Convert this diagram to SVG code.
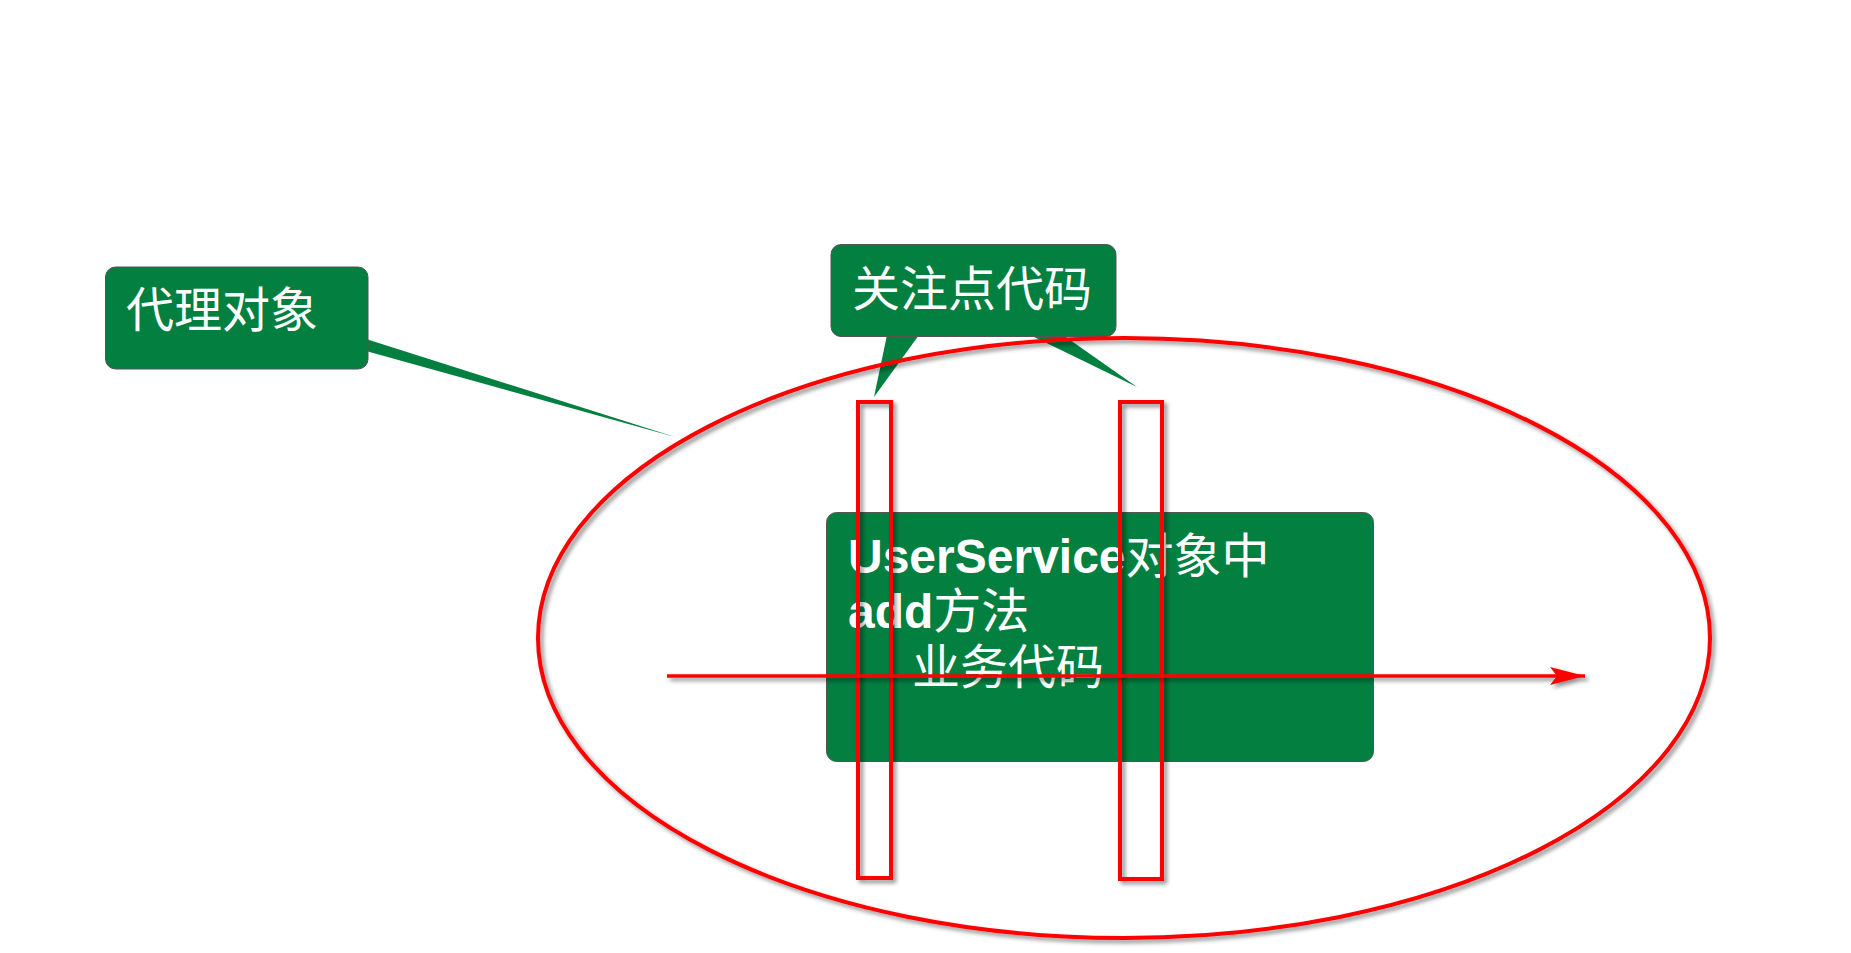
<svg xmlns="http://www.w3.org/2000/svg" width="1851" height="953" viewBox="0 0 1851 953">
<defs>
<filter id="sh" filterUnits="userSpaceOnUse" x="0" y="0" width="1851" height="953">
<feDropShadow dx="3" dy="3" stdDeviation="2" flood-color="#000" flood-opacity="0.45"/>
</filter>
<marker id="arr" viewBox="0 0 36 20" refX="35" refY="10" markerWidth="36" markerHeight="20" markerUnits="userSpaceOnUse" orient="auto">
<path d="M0,1 L35,10 L0,19 L7,10 Z" fill="#ff0000"/>
</marker>
<style>
.box{fill:#037f40;stroke:#555;stroke-width:1}
.tail{fill:#037f40}
.cjk{font-family:"Noto Sans CJK SC","Liberation Sans",sans-serif;font-size:48px;fill:#fff}
.lat{font-family:"Liberation Sans",Arial,sans-serif;font-weight:bold}
.red{fill:none;stroke:#ff0000;stroke-width:4}
</style>
</defs>

<g id="proxy-label">
<path class="tail" d="M366,339 L675,437 L366,351 Z"/>
<rect class="box" x="105.5" y="267" width="262.5" height="102" rx="10"/>
<text class="cjk" x="126" y="327">代理对象</text>
</g>

<g id="concern-label">
<path class="tail" d="M887,335 L874,397 L919,335 Z"/>
<path class="tail" d="M1030,335 L1137,387 L1063,335 Z"/>
<rect class="box" x="831" y="244.5" width="285" height="92" rx="10"/>
<text class="cjk" x="852" y="306">关注点代码</text>
</g>

<g id="userservice">
<rect class="box" x="826.5" y="512.5" width="547" height="249" rx="10"/>
<text class="cjk" x="848" y="573"><tspan class="lat">UserService</tspan>对象中</text>
<text class="cjk" x="848" y="628"><tspan class="lat">add</tspan>方法</text>
<text class="cjk" x="912" y="684">业务代码</text>
</g>

<g id="proxy-ellipse" filter="url(#sh)">
<ellipse class="red" cx="1124" cy="638" rx="586" ry="300"/>
</g>

<g id="join-points" filter="url(#sh)">
<rect class="red" x="858" y="402" width="33" height="476"/>
<rect class="red" x="1120" y="402" width="42" height="477"/>
</g>

<g id="connectors" filter="url(#sh)">
<line x1="667" y1="676" x2="1585" y2="676" stroke="#ff0000" stroke-width="3.5" marker-end="url(#arr)"/>
</g>
</svg>
